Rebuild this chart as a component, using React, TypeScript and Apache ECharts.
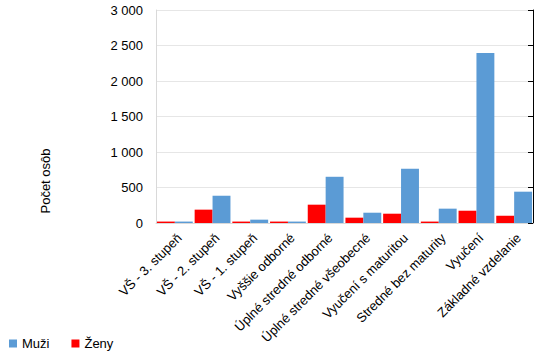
import React, { useEffect, useRef } from "react";
import * as echarts from "echarts";

const categories = [
  "VŠ - 3. stupeň",
  "VŠ - 2. stupeň",
  "VŠ - 1. stupeň",
  "Vyššie odborné",
  "Úplné stredné odborné",
  "Úplné stredné všeobecné",
  "Vyučení s maturitou",
  "Stredné bez maturity",
  "Vyučení",
  "Základné vzdelanie",
];
const zeny = [20, 188, 20, 20, 258, 75, 131, 20, 173, 103];
const muzi = [20, 384, 47, 20, 651, 145, 764, 202, 2395, 441];
const yTicks = { min: 0, max: 3000, interval: 500 };

const FONT = "Liberation Sans";

export default function App() {
  const ref = useRef<HTMLDivElement>(null);
  useEffect(() => {
    if (!ref.current) return;
    const chart = echarts.init(ref.current, undefined, { renderer: "svg" });
    chart.setOption({
      animation: false,
      textStyle: { fontFamily: FONT },
      grid: { left: 156, right: 10, top: 10, bottom: 138, containLabel: false },
      legend: {
        data: ["Muži", "Ženy"],
        left: 9,
        top: 337,
        padding: 0,
        icon: "rect",
        itemWidth: 8,
        itemHeight: 8,
        itemGap: 22,
        textStyle: { fontFamily: FONT, fontSize: 13, color: "#000" },
      },
      graphic: [
        {
          type: "text",
          x: 45,
          y: 181,
          rotation: Math.PI / 2,
          style: {
            text: "Počet osôb",
            fontFamily: FONT,
            fontSize: 13,
            fill: "#000",
            textAlign: "center",
            textVerticalAlign: "middle",
          },
        },
      ],
      xAxis: {
        type: "category",
        data: categories,
        axisLine: { show: true, lineStyle: { color: "#d9d9d9" } },
        axisTick: { show: false },
        axisLabel: {
          rotate: 45,
          interval: 0,
          margin: 8,
          verticalAlign: "top",
          fontFamily: FONT,
          fontSize: 13,
          color: "#000",
        },
      },
      yAxis: [
        {
          type: "value",
          ...yTicks,
          axisLine: { show: true, lineStyle: { color: "#d9d9d9" } },
          axisTick: { show: false },
          splitLine: { show: true, lineStyle: { color: "#e6e6e6" } },
          axisLabel: {
            margin: 13,
            fontFamily: FONT,
            fontSize: 13,
            color: "#000",
            formatter: (v: number) => String(v).replace(/\B(?=(\d{3})+(?!\d))/g, " "),
          },
        },
        {
          type: "value",
          position: "right",
          ...yTicks,
          axisLine: { show: true, lineStyle: { color: "#000" } },
          axisTick: { show: true, inside: true, length: 5, lineStyle: { color: "#000" } },
          splitLine: { show: false },
          axisLabel: { show: false },
        },
      ],
      series: [
        {
          name: "Ženy",
          type: "bar",
          data: zeny,
          itemStyle: { color: "#ff0000" },
          barGap: "0%",
          barCategoryGap: "5%",
        },
        {
          name: "Muži",
          type: "bar",
          data: muzi,
          itemStyle: { color: "#5b9bd5" },
          barGap: "0%",
          barCategoryGap: "5%",
        },
      ],
    });
    return () => chart.dispose();
  }, []);
  return <div ref={ref} style={{ width: 543, height: 361, position: "absolute", left: 0, top: 0 }} />;
}
